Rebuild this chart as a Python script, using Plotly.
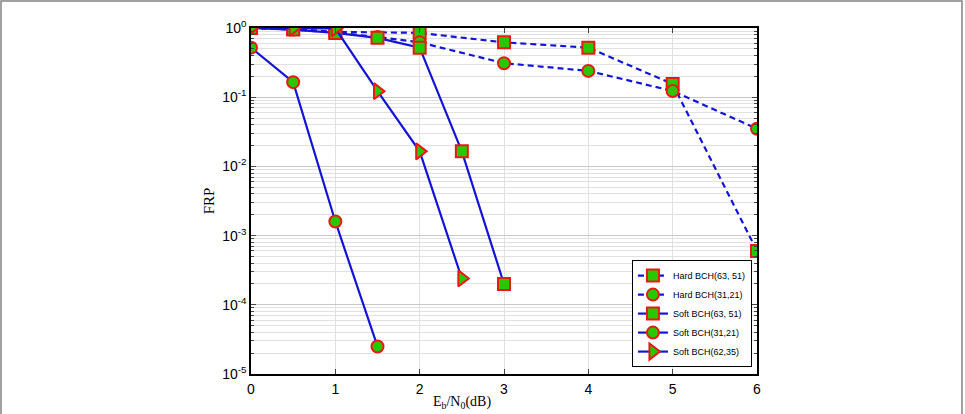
import plotly.graph_objects as go

# Data
hard63_x = [0, 0.5, 1, 2, 3, 4, 5, 6]
hard63_y = [1.0, 0.97, 0.88, 0.85, 0.62, 0.52, 0.155, 6e-4]
hard31_x = [0, 0.5, 1, 1.5, 2, 3, 4, 5, 6]
hard31_y = [1.0, 0.95, 0.86, 0.74, 0.62, 0.31, 0.24, 0.123, 0.035]
soft63_x = [0, 0.5, 1, 1.5, 2, 2.5, 3]
soft63_y = [1.0, 0.95, 0.85, 0.72, 0.52, 0.0165, 2.0e-4]
soft31_x = [0, 0.5, 1, 1.5]
soft31_y = [0.52, 0.165, 1.6e-3, 2.5e-5]
soft62_x = [0, 0.5, 1, 1.5, 2, 2.5]
soft62_y = [1.0, 1.0, 0.99, 0.122, 0.0165, 2.4e-4]

names = ["Hard BCH(63, 51)", "Hard BCH(31,21)", "Soft BCH(63, 51)", "Soft BCH(31,21)", "Soft BCH(62,35)"]
ytick_vals = [1e-5, 1e-4, 1e-3, 1e-2, 1e-1, 1]
ytick_text = ["10<sup>-5</sup>", "10<sup>-4</sup>", "10<sup>-3</sup>", "10<sup>-2</sup>", "10<sup>-1</sup>", "10<sup>0</sup>"]
xtick_vals = [0, 1, 2, 3, 4, 5, 6]

BLUE = "rgb(20,20,215)"
GREEN = "rgb(40,200,0)"
RED = "rgb(235,25,20)"

series = [
    (hard63_x, hard63_y, names[0], "square", "6px,4px", 12),
    (hard31_x, hard31_y, names[1], "circle", "6px,4px", 12),
    (soft63_x, soft63_y, names[2], "square", "solid", 12),
    (soft31_x, soft31_y, names[3], "circle", "solid", 12),
    (soft62_x, soft62_y, names[4], "triangle-right", "solid", 14),
]

fig = go.Figure()
for x, y, n, sym, dash, sz in series:
    fig.add_trace(go.Scatter(
        x=x, y=y, name=n, mode="lines+markers",
        line=dict(color=BLUE, width=2.2, dash=dash),
        marker=dict(symbol=sym, size=sz, color=GREEN, line=dict(color=RED, width=2)),
    ))

PW = 506.0
PH = 346.0
fig.update_layout(
    width=965, height=414,
    margin=dict(l=251, r=208, t=28, b=40),
    paper_bgcolor="white", plot_bgcolor="white",
    font=dict(family="Liberation Sans, Arial", size=14, color="black"),
    showlegend=True,
    legend=dict(
        x=0.99, xanchor="right", y=0.02, yanchor="bottom",
        bgcolor="white", bordercolor="black", borderwidth=1,
        font=dict(size=9, family="Liberation Sans, Arial"),
        tracegroupgap=0, itemwidth=30,
    ),
    shapes=[dict(type="rect", xref="paper", yref="paper",
                 x0=-250/PW, x1=(962-251)/PW, y0=-0.2, y1=(374-1)/PH,
                 line=dict(color="rgb(130,130,130)", width=1.5), layer="below")],
    annotations=[dict(
        text="E<sub>b</sub>/N<sub>0</sub>(dB)", xref="paper", yref="paper",
        x=(462-251)/PW, y=-(413-374)/PH, xanchor="center", yanchor="bottom",
        showarrow=False, font=dict(family="Liberation Serif, Times New Roman", size=14),
    )],
)

fig.update_xaxes(
    range=[0, 6], tickvals=xtick_vals, ticks="inside", ticklen=5,
    ticklabelstandoff=1,
    showline=True, linecolor="black", linewidth=1.5, mirror="ticks",
    showgrid=True, gridcolor="rgb(225,225,225)", gridwidth=1, zeroline=False,
)
fig.update_yaxes(
    type="log", range=[-5, 0], tickvals=ytick_vals, ticktext=ytick_text,
    ticks="inside", ticklen=5,
    showline=True, linecolor="black", linewidth=1.5, mirror="ticks",
    showgrid=True, gridcolor="rgb(200,200,200)", gridwidth=1, zeroline=False,
    minor=dict(ticks="inside", ticklen=3, showgrid=True, gridcolor="rgb(225,225,225)", dtick="D1"),
    title=dict(text="FRP", font=dict(family="Liberation Serif, Times New Roman", size=15), standoff=4),
)

fig.write_html("out.html")
